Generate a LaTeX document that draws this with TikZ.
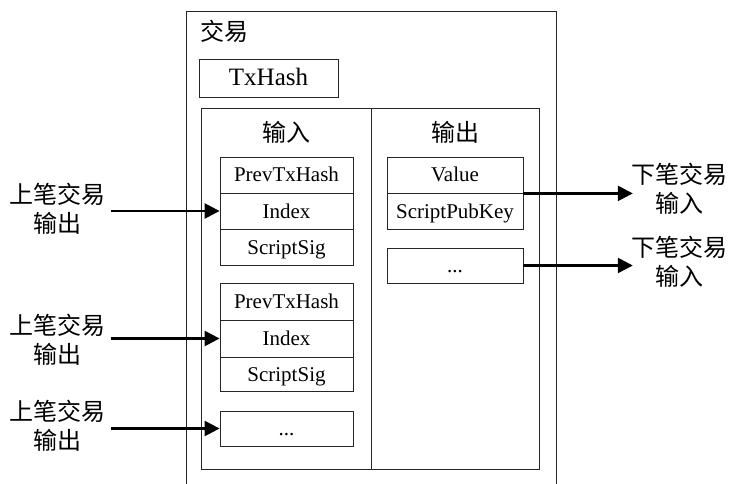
\documentclass[tikz,border=0pt]{standalone}
\usepackage{fontspec}
\setmainfont{Liberation Serif}
\newfontfamily\cjk{Noto Sans CJK SC}
\usetikzlibrary{arrows.meta}
\tikzset{
  box/.style={draw=black!85, line width=0.8pt, inner sep=0pt, font=\fontsize{21}{24}\selectfont, text height=14pt, text depth=0pt},
  inbox/.style={box, minimum width=133pt, minimum height=36pt},
  outbox/.style={box, minimum width=136pt, minimum height=36pt},
  frame/.style={draw=black!85, line width=0.8pt},
  cjklabel/.style={font=\cjk\fontsize{24}{29}\selectfont, align=center, inner sep=0pt},
  arr/.style={line width=2.5pt, -{Triangle[length=15pt,width=15pt]}}
}
\begin{document}
\begin{tikzpicture}[x=1pt,y=-1pt]
\useasboundingbox (0,0) rectangle (731,484);
\clip (0,0) rectangle (731,484);
% outer frame
\draw[frame] (186,11) rectangle (556,500);
\node[cjklabel, anchor=west] (tx) at (200,31) {交易};
\node[box, font=\fontsize{25}{28}\selectfont, text height=17pt, text depth=1pt, minimum width=139pt, minimum height=38pt] (txhash) at (268.5,78) {TxHash};
% inner frame
\draw[frame] (201,108) rectangle (539,469);
\draw[frame] (371,108) -- (371,469);
\node[cjklabel] (inlab) at (286,132) {输入};
\node[cjklabel] (outlab) at (455,132) {输出};
% input group 1
\node[inbox] (prev1) at (286.5,175) {PrevTxHash};
\node[inbox] (idx1) at (286.5,211) {Index};
\node[inbox] (sig1) at (286.5,247) {ScriptSig};
% input group 2
\node[inbox, minimum height=37pt] (prev2) at (286.5,301.5) {PrevTxHash};
\node[inbox, minimum height=37pt] (idx2) at (286.5,338.5) {Index};
\node[inbox, minimum height=34pt] (sig2) at (286.5,374) {ScriptSig};
% input dots
\node[inbox, minimum height=35pt] (dots1) at (286.5,428.5) {...};
% outputs
\node[outbox] (val) at (455,175) {Value};
\node[outbox] (spk) at (455,211) {ScriptPubKey};
\node[outbox, minimum height=35pt] (dots2) at (455,265.5) {...};
% left labels
\node[cjklabel] (src1) at (57.5,209) {上笔交易\\输出};
\node[cjklabel] (src2) at (57.5,340) {上笔交易\\输出};
\node[cjklabel] (src3) at (57.5,426) {上笔交易\\输出};
% right labels
\node[cjklabel] (dst1) at (679,189) {下笔交易\\输入};
\node[cjklabel] (dst2) at (679,262) {下笔交易\\输入};
% arrows
\draw[arr] ([xshift=5pt]src1.east |- idx1.west) -- (idx1.west);
\draw[arr] ([xshift=5pt]src2.east |- idx2.west) -- (idx2.west);
\draw[arr] ([xshift=5pt]src3.east |- dots1.west) -- (dots1.west);
\draw[arr] (val.south east) -- ([xshift=2pt]dst1.west |- val.south east);
\draw[arr] (dots2.east) -- ([xshift=2pt]dst2.west |- dots2.east);
\end{tikzpicture}
\end{document}
